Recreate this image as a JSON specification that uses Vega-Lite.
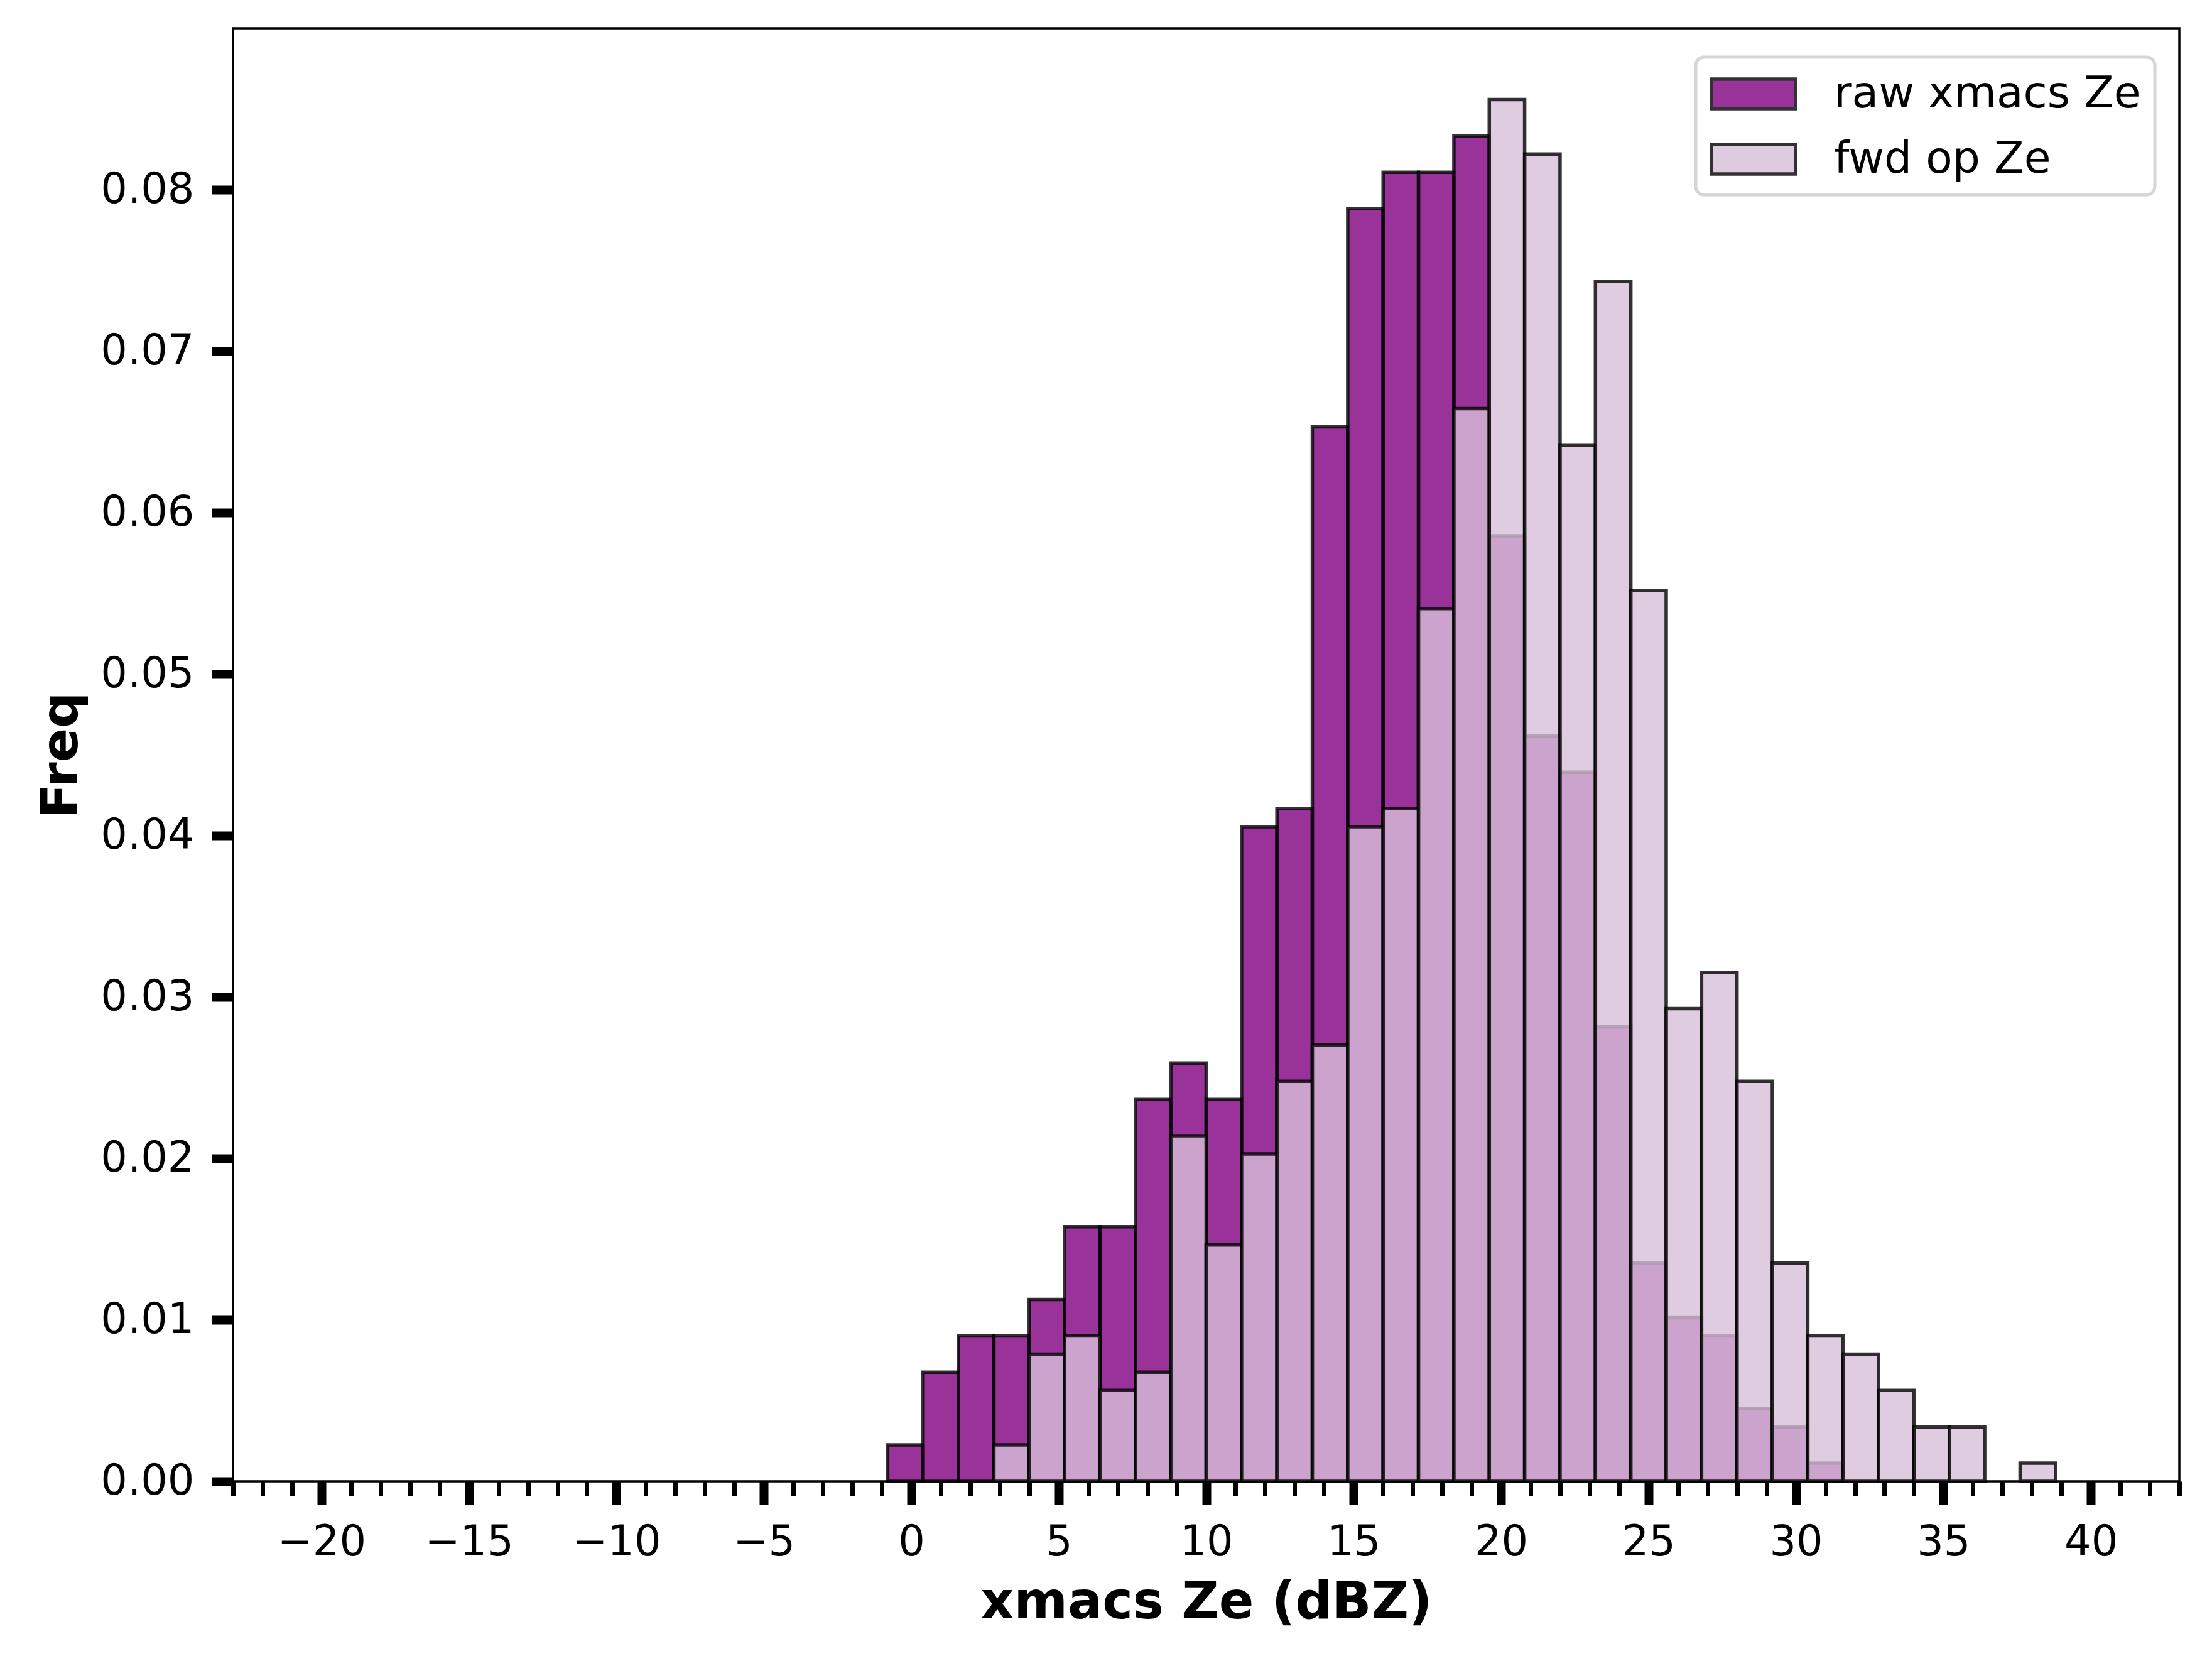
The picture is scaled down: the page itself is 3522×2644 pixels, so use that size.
{
  "$schema": "https://vega.github.io/schema/vega-lite/v6.json",
  "width": 3099,
  "height": 2313,
  "autosize": "none",
  "padding": {"left": 371, "top": 45, "right": 52, "bottom": 286},
  "background": "white",
  "config": {
    "font": "DejaVu Sans",
    "view": {"stroke": "black", "strokeWidth": 3.5},
    "axis": {"grid": false, "domain": false, "tickColor": "black", "labelColor": "black", "titleColor": "black", "labelFont": "DejaVu Sans", "titleFont": "DejaVu Sans"},
    "legend": {"strokeWidth": 5}
  },
  "data": {
    "values": [
      {"series": "raw xmacs Ze", "x0": -0.8, "x1": 0.4, "freq": 0.002252},
      {"series": "raw xmacs Ze", "x0": 0.4, "x1": 1.6, "freq": 0.006757},
      {"series": "raw xmacs Ze", "x0": 1.6, "x1": 2.8, "freq": 0.009009},
      {"series": "raw xmacs Ze", "x0": 2.8, "x1": 4.0, "freq": 0.009009},
      {"series": "raw xmacs Ze", "x0": 4.0, "x1": 5.2, "freq": 0.011261},
      {"series": "raw xmacs Ze", "x0": 5.2, "x1": 6.4, "freq": 0.015766},
      {"series": "raw xmacs Ze", "x0": 6.4, "x1": 7.6, "freq": 0.015766},
      {"series": "raw xmacs Ze", "x0": 7.6, "x1": 8.8, "freq": 0.023649},
      {"series": "raw xmacs Ze", "x0": 8.8, "x1": 10.0, "freq": 0.025901},
      {"series": "raw xmacs Ze", "x0": 10.0, "x1": 11.2, "freq": 0.023649},
      {"series": "raw xmacs Ze", "x0": 11.2, "x1": 12.4, "freq": 0.040541},
      {"series": "raw xmacs Ze", "x0": 12.4, "x1": 13.6, "freq": 0.041667},
      {"series": "raw xmacs Ze", "x0": 13.6, "x1": 14.8, "freq": 0.065315},
      {"series": "raw xmacs Ze", "x0": 14.8, "x1": 16.0, "freq": 0.078829},
      {"series": "raw xmacs Ze", "x0": 16.0, "x1": 17.2, "freq": 0.081081},
      {"series": "raw xmacs Ze", "x0": 17.2, "x1": 18.4, "freq": 0.081081},
      {"series": "raw xmacs Ze", "x0": 18.4, "x1": 19.6, "freq": 0.083333},
      {"series": "raw xmacs Ze", "x0": 19.6, "x1": 20.8, "freq": 0.058559},
      {"series": "raw xmacs Ze", "x0": 20.8, "x1": 22.0, "freq": 0.046171},
      {"series": "raw xmacs Ze", "x0": 22.0, "x1": 23.2, "freq": 0.043919},
      {"series": "raw xmacs Ze", "x0": 23.2, "x1": 24.4, "freq": 0.028153},
      {"series": "raw xmacs Ze", "x0": 24.4, "x1": 25.6, "freq": 0.013514},
      {"series": "raw xmacs Ze", "x0": 25.6, "x1": 26.8, "freq": 0.010135},
      {"series": "raw xmacs Ze", "x0": 26.8, "x1": 28.0, "freq": 0.009009},
      {"series": "raw xmacs Ze", "x0": 28.0, "x1": 29.2, "freq": 0.004505},
      {"series": "raw xmacs Ze", "x0": 29.2, "x1": 30.4, "freq": 0.003378},
      {"series": "raw xmacs Ze", "x0": 30.4, "x1": 31.6, "freq": 0.001126},
      {"series": "fwd op Ze", "x0": 2.8, "x1": 4.0, "freq": 0.002252},
      {"series": "fwd op Ze", "x0": 4.0, "x1": 5.2, "freq": 0.007883},
      {"series": "fwd op Ze", "x0": 5.2, "x1": 6.4, "freq": 0.009009},
      {"series": "fwd op Ze", "x0": 6.4, "x1": 7.6, "freq": 0.005631},
      {"series": "fwd op Ze", "x0": 7.6, "x1": 8.8, "freq": 0.006757},
      {"series": "fwd op Ze", "x0": 8.8, "x1": 10.0, "freq": 0.021396},
      {"series": "fwd op Ze", "x0": 10.0, "x1": 11.2, "freq": 0.014640},
      {"series": "fwd op Ze", "x0": 11.2, "x1": 12.4, "freq": 0.020270},
      {"series": "fwd op Ze", "x0": 12.4, "x1": 13.6, "freq": 0.024775},
      {"series": "fwd op Ze", "x0": 13.6, "x1": 14.8, "freq": 0.027027},
      {"series": "fwd op Ze", "x0": 14.8, "x1": 16.0, "freq": 0.040541},
      {"series": "fwd op Ze", "x0": 16.0, "x1": 17.2, "freq": 0.041667},
      {"series": "fwd op Ze", "x0": 17.2, "x1": 18.4, "freq": 0.054054},
      {"series": "fwd op Ze", "x0": 18.4, "x1": 19.6, "freq": 0.066441},
      {"series": "fwd op Ze", "x0": 19.6, "x1": 20.8, "freq": 0.085586},
      {"series": "fwd op Ze", "x0": 20.8, "x1": 22.0, "freq": 0.082207},
      {"series": "fwd op Ze", "x0": 22.0, "x1": 23.2, "freq": 0.064189},
      {"series": "fwd op Ze", "x0": 23.2, "x1": 24.4, "freq": 0.074324},
      {"series": "fwd op Ze", "x0": 24.4, "x1": 25.6, "freq": 0.055180},
      {"series": "fwd op Ze", "x0": 25.6, "x1": 26.8, "freq": 0.029279},
      {"series": "fwd op Ze", "x0": 26.8, "x1": 28.0, "freq": 0.031532},
      {"series": "fwd op Ze", "x0": 28.0, "x1": 29.2, "freq": 0.024775},
      {"series": "fwd op Ze", "x0": 29.2, "x1": 30.4, "freq": 0.013514},
      {"series": "fwd op Ze", "x0": 30.4, "x1": 31.6, "freq": 0.009009},
      {"series": "fwd op Ze", "x0": 31.6, "x1": 32.8, "freq": 0.007883},
      {"series": "fwd op Ze", "x0": 32.8, "x1": 34.0, "freq": 0.005631},
      {"series": "fwd op Ze", "x0": 34.0, "x1": 35.2, "freq": 0.003378},
      {"series": "fwd op Ze", "x0": 35.2, "x1": 36.4, "freq": 0.003378},
      {"series": "fwd op Ze", "x0": 37.6, "x1": 38.8, "freq": 0.001126}
    ]
  },
  "layer": [
    {
      "transform": [{"filter": "datum.series === 'raw xmacs Ze'"}],
      "mark": {"type": "rect", "fillOpacity": 0.8, "stroke": "black", "strokeOpacity": 0.8, "strokeWidth": 5.5},
      "encoding": {
        "x": {
          "field": "x0", "type": "quantitative",
          "scale": {"domain": [-23, 43], "nice": false, "zero": false},
          "axis": {
            "orient": "bottom",
            "values": [-20, -15, -10, -5, 0, 5, 10, 15, 20, 25, 30, 35, 40],
            "tickSize": 37, "tickWidth": 14, "labelFontSize": 67, "labelPadding": 27,
            "labelFlush": false, "labelOverlap": false,
            "title": "xmacs Ze (dBZ)", "titleFontSize": 82, "titleFontWeight": "bold", "titlePadding": 22
          }
        },
        "x2": {"field": "x1"},
        "y": {
          "field": "freq", "type": "quantitative",
          "scale": {"domain": [0, 0.09], "nice": false},
          "axis": {
            "values": [0, 0.01, 0.02, 0.03, 0.04, 0.05, 0.06, 0.07, 0.08],
            "format": ".2f", "tickSize": 34, "tickWidth": 14, "labelFontSize": 67, "labelPadding": 28,
            "labelFlush": false, "labelOverlap": false,
            "title": "Freq", "titleFontSize": 80, "titleFontWeight": "bold", "titlePadding": 32
          }
        },
        "y2": {"datum": 0},
        "color": {
          "field": "series", "type": "nominal",
          "scale": {"domain": ["raw xmacs Ze", "fwd op Ze"], "range": ["#800080", "#D8BFD8"]},
          "legend": {
            "orient": "none", "legendX": 2329, "legendY": 46, "title": null,
            "symbolType": "M-1,-0.7L3,-0.7L3,0.7L-1,0.7Z", "symbolSize": 4489,
            "symbolStrokeColor": "black", "symbolStrokeWidth": 5.5, "symbolOpacity": 0.8,
            "labelFontSize": 69.5, "labelFont": "DejaVu Sans", "labelColor": "black", "labelOffset": 125, "labelLimit": 1000,
            "fillColor": "rgba(255,255,255,0.8)", "strokeColor": "#d6d6d6",
            "cornerRadius": 13, "padding": 22, "rowPadding": 33
          }
        }
      }
    },
    {
      "transform": [{"filter": "datum.series === 'fwd op Ze'"}],
      "mark": {"type": "rect", "fillOpacity": 0.8, "stroke": "black", "strokeOpacity": 0.8, "strokeWidth": 5.5},
      "encoding": {
        "x": {
          "field": "x0", "type": "quantitative",
          "axis": {
            "orient": "bottom",
            "values": [-23, -22, -21, -19, -18, -17, -16, -14, -13, -12, -11, -9, -8, -7, -6, -4, -3, -2, -1, 1, 2, 3, 4, 6, 7, 8, 9, 11, 12, 13, 14, 16, 17, 18, 19, 21, 22, 23, 24, 26, 27, 28, 29, 31, 32, 33, 34, 36, 37, 38, 39, 41, 42, 43],
            "tickSize": 23, "tickWidth": 7, "labels": false, "title": null
          }
        },
        "x2": {"field": "x1"},
        "y": {"field": "freq", "type": "quantitative"},
        "y2": {"datum": 0},
        "color": {"field": "series", "type": "nominal"}
      }
    }
  ],
  "resolve": {"axis": {"x": "independent"}}
}
